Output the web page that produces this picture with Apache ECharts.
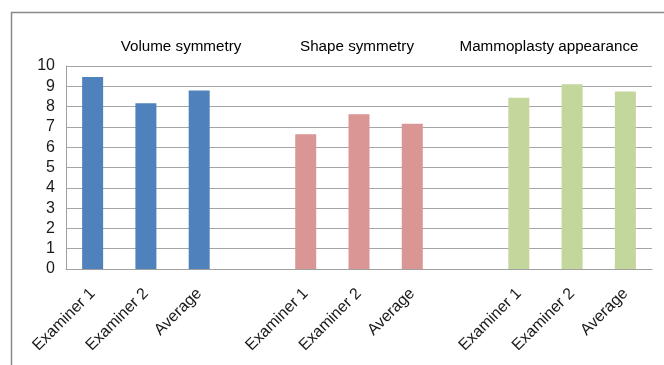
<!DOCTYPE html>
<html>
<head>
<meta charset="utf-8">
<style>
  html, body { margin: 0; padding: 0; background: #ffffff; }
  #chart { width: 664px; height: 365px; }
</style>
<script src="https://cdn.jsdelivr.net/npm/echarts@6/dist/echarts.min.js"></script>
</head>
<body>
<div id="chart"></div>
<script>
// Scores per criterion: Examiner 1, Examiner 2, Average
const groupTitles = ['Volume symmetry', 'Shape symmetry', 'Mammoplasty appearance'];
const raters = ['Examiner 1', 'Examiner 2', 'Average'];
const volumeSymmetry = [9.46, 8.17, 8.79];
const shapeSymmetry = [6.64, 7.62, 7.15];
const mammoplastyAppearance = [8.43, 9.10, 8.74];
const yTicks = [0, 1, 2, 3, 4, 5, 6, 7, 8, 9, 10];

const groupColors = ['#4F81BD', '#D99694', '#C3D69B'];
const groups = [volumeSymmetry, shapeSymmetry, mammoplastyAppearance];

// Category axis: three raters per group, one blank slot between groups
const categories = [];
groups.forEach((g, gi) => {
  if (gi > 0) categories.push('');
  raters.forEach(r => categories.push(r));
});

// One series per group, occupying only its own slots
const series = groups.map((vals, gi) => {
  const data = categories.map(() => '-');
  vals.forEach((v, i) => { data[gi * 4 + i] = v; });
  return {
    name: groupTitles[gi],
    type: 'bar',
    stack: 'all',
    barWidth: 21,
    data: data,
    itemStyle: { color: groupColors[gi] },
    silent: true
  };
});

const chart = echarts.init(document.getElementById('chart'), null, { renderer: 'canvas' });
const font = 'Liberation Sans, Arial, sans-serif';

chart.setOption({
  animation: false,
  backgroundColor: '#ffffff',
  grid: { left: 66, right: 12, top: 66, bottom: 96, containLabel: false },
  xAxis: {
    type: 'category',
    data: categories,
    axisLine: { show: true, lineStyle: { color: '#a0a0a0', width: 1 } },
    axisTick: { show: false },
    axisLabel: {
      interval: 0,
      rotate: 45,
      margin: 22,
      color: '#1a1a1a',
      fontFamily: font,
      fontSize: 16
    }
  },
  yAxis: {
    type: 'value',
    min: yTicks[0],
    max: yTicks[yTicks.length - 1],
    interval: 1,
    axisLine: { show: true, lineStyle: { color: '#a0a0a0', width: 1 } },
    axisTick: { show: false },
    splitLine: { show: true, lineStyle: { color: '#a6a6a6', width: 1 } },
    axisLabel: {
      margin: 11,
      color: '#1a1a1a',
      fontFamily: font,
      fontSize: 16
    }
  },
  graphic: [
    {
      type: 'polyline',
      shape: { points: [[11.5, 365], [11.5, 12.5], [664, 12.5]] },
      style: { stroke: '#8a8a8a', lineWidth: 1.5, fill: null },
      silent: true
    },
    { type: 'text', x: 181, y: 47, style: { text: groupTitles[0], fill: '#000', font: '15.2px ' + font, textAlign: 'center', textVerticalAlign: 'middle' } },
    { type: 'text', x: 357, y: 47, style: { text: groupTitles[1], fill: '#000', font: '15.2px ' + font, textAlign: 'center', textVerticalAlign: 'middle' } },
    { type: 'text', x: 549, y: 47, style: { text: groupTitles[2], fill: '#000', font: '15.2px ' + font, textAlign: 'center', textVerticalAlign: 'middle' } }
  ],
  series: series
});
</script>
</body>
</html>
